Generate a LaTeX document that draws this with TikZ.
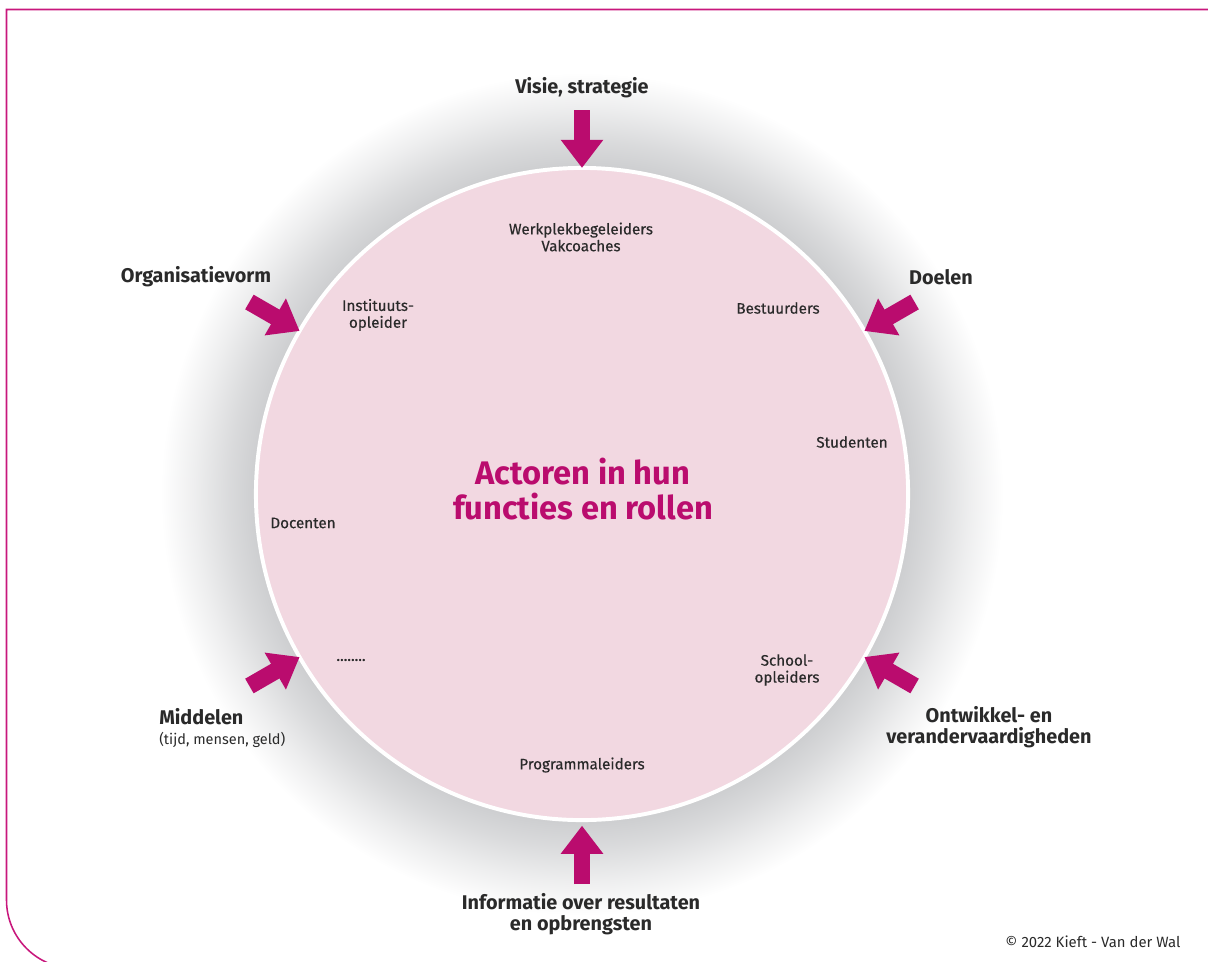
\documentclass[tikz,border=0pt]{standalone}
\usepackage{fontspec}
\setmainfont{Fira Sans}
\newfontfamily\medfira[FakeBold=0.4]{Fira Sans}
\usetikzlibrary{arrows.meta}
\definecolor{mag}{HTML}{BA0C6E}
\definecolor{bordermag}{HTML}{C8177C}
\definecolor{pinkfill}{HTML}{F2D8E1}
\definecolor{glowc}{HTML}{CDCED0}
\definecolor{txt}{HTML}{2A2A2A}
\pgfdeclareradialshading{glow}{\pgfpoint{0bp}{0bp}}{color(0bp)=(glowc); color(19bp)=(glowc); color(20.5bp)=(glowc!75!white); color(22.5bp)=(glowc!35!white); color(24.5bp)=(white); color(50bp)=(white)}
\tikzset{
  bigarr/.style={draw=mag, line width=12pt, -{Triangle[length=20pt,width=29pt]}},
  lab/.style={font=\bfseries\fontsize{14.1}{14.8}\selectfont, text=txt, align=center, inner sep=0pt},
  innerlab/.style={font=\medfira\fontsize{10.8}{12}\selectfont, text=txt, align=center, inner sep=0pt},
  titlelab/.style={font=\bfseries\fontsize{23.2}{24.8}\selectfont, text=mag, align=center, inner sep=0pt},
}
\begin{document}
\begin{tikzpicture}[x=0.025cm,y=-0.025cm]
\useasboundingbox (0,0) rectangle (1208,961);
\begin{scope}
\clip (0,0) rectangle (1208,961);
\draw[bordermag, line width=1.1pt] (1210,9.5) -- (6.5,9.5) -- (6.5,900) arc[start angle=180, end angle=90, radius=68.5];
\shade[shading=glow] (582,494) circle[radius=430];
\end{scope}
\node[circle, minimum size=16.3cm, inner sep=0pt, outer sep=0pt, fill=pinkfill, draw=white, line width=2.8pt] (hub) at (582,494) {};

\coordinate (tVisie) at (582,110);
\coordinate (tOrg) at (249.4,302);
\coordinate (tDoel) at (914.6,302);
\coordinate (tMid) at (249.4,686);
\coordinate (tOntw) at (914.6,686);
\coordinate (tInfo) at (582,884);

\draw[bigarr] (tVisie) -- (hub.north);
\draw[bigarr] (tOrg) -- (hub.150);
\draw[bigarr] (tDoel) -- (hub.30);
\draw[bigarr] (tMid) -- (hub.210);
\draw[bigarr] (tOntw) -- (hub.330);
\draw[bigarr] (tInfo) -- ([yshift=-4pt]hub.south);

\node[lab] (visie) at (582,88) {Visie, strategie};
\node[lab] (org) at (196,277) {Organisatievorm};
\node[lab] (doel) at (941,277) {Doelen};
\node[lab, align=left, anchor=west] (mid) at (159,728) {Middelen\\[-1pt]{\mdseries\fontsize{10.3}{12}\selectfont (tijd, mensen, geld)}};
\node[lab] (ontw) at (989,727) {Ontwikkel- en\\verandervaardigheden};
\node[lab] (info) at (581,914) {Informatie over resultaten\\en opbrengsten};

\node[titlelab] (title) at (583,489) {Actoren in hun\\functies en rollen};

\node[innerlab] (werk) at (581,237) {Werkplekbegeleiders\\Vakcoaches};
\node[innerlab] (inst) at (378,315) {Instituuts-\\opleider};
\node[innerlab] (best) at (778,308) {Bestuurders};
\node[innerlab] (stud) at (852,442) {Studenten};
\node[innerlab] (doc) at (303,523) {Docenten};
\node[innerlab] (dots) at (351,660) {........};
\node[innerlab] (school) at (787,670) {School-\\opleiders};
\node[innerlab] (prog) at (582,765) {Programmaleiders};

\node[font=\fontsize{10.6}{12}\selectfont, text=txt, inner sep=0pt] (copy) at (1093,942) {© 2022 Kieft - Van der Wal};
\end{tikzpicture}
\end{document}
